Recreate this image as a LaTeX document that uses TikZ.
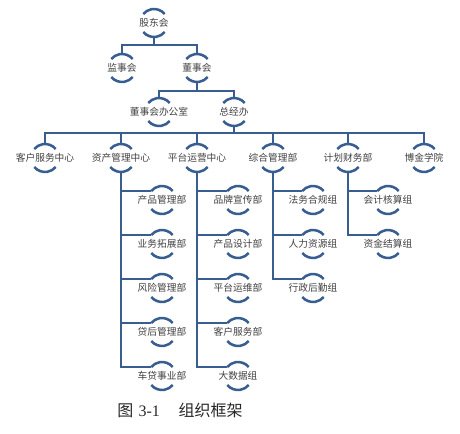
\documentclass[tikz,border=0pt]{standalone}
\usepackage{fontspec}
\setmainfont{Liberation Serif}
\newfontfamily\cjk{Noto Sans CJK SC}
\usetikzlibrary{calc}
\definecolor{orgblue}{RGB}{55,93,145}
\definecolor{txtgray}{RGB}{64,64,64}
\newcommand\orgarcs[1]{%
  \draw[arcline] (#1.40) arc[start angle=40,end angle=140,radius=10.5pt];
  \draw[arcline] (#1.220) arc[start angle=220,end angle=320,radius=10.5pt];}
\begin{document}
\begin{tikzpicture}[x=0.75pt,y=0.75pt,
  txt/.style={font=\cjk\fontsize{7.3}{8}\selectfont, text=txtgray, inner sep=0pt},
  unit/.style={circle, minimum size=21pt, inner sep=0pt, outer sep=0pt, draw=none, label={[txt]center:#1}},
  arcline/.style={draw=orgblue, line width=1.9pt},
  conn/.style={draw=orgblue, line width=1.9pt}]
\useasboundingbox (0,0) rectangle (460,-434);
% level 0-2
\node[unit=股东会] (gd) at (154,-23) {};
\node[unit=监事会] (js) at (122,-68) {};
\node[unit=董事会] (ds) at (197,-68) {};
\node[unit=董事会办公室] (dsb) at (159,-112) {};
\node[unit=总经办] (zj) at (234,-112) {};
% level 3
\node[unit=客户服务中心] (kf) at (45,-158) {};
\node[unit=资产管理中心] (zc) at (121,-158) {};
\node[unit=平台运营中心] (pt) at (197,-158) {};
\node[unit=综合管理部] (zh) at (273,-158) {};
\node[unit=计划财务部] (jh) at (348,-158) {};
\node[unit=博金学院] (bj) at (424,-158) {};
% level 4
\node[unit=产品管理部] (cp) at (162,-200) {};
\node[unit=业务拓展部] (yw) at (162,-244) {};
\node[unit=风险管理部] (fx) at (162,-288) {};
\node[unit=贷后管理部] (dh) at (162,-332) {};
\node[unit=车贷事业部] (cd) at (162,-376) {};
\node[unit=品牌宣传部] (pp) at (238,-200) {};
\node[unit=产品设计部] (cs) at (238,-244) {};
\node[unit=平台运维部] (yy) at (238,-288) {};
\node[unit=客户服务部] (kh) at (238,-332) {};
\node[unit=大数据组] (dsj) at (238,-376) {};
\node[unit=法务合规组] (fw) at (313,-200) {};
\node[unit=人力资源组] (rl) at (313,-244) {};
\node[unit=行政后勤组] (xz) at (313,-288) {};
\node[unit=会计核算组] (kj) at (388,-200) {};
\node[unit=资金结算组] (zjs) at (388,-244) {};
% arcs
\foreach \n in {gd,js,ds,dsb,zj,kf,zc,pt,zh,jh,bj,cp,yw,fx,dh,cd,pp,cs,yy,kh,dsj,fw,rl,xz,kj,zjs}{\orgarcs{\n}}
% buses
\coordinate (bus0) at (0,-45);
\coordinate (bus1) at (0,-91);
\coordinate (bus2) at (0,-133);
\draw[conn] (gd.south) -- (gd.south |- bus0) -| (js.north);
\draw[conn] (gd.south |- bus0) -| (ds.north);
\draw[conn] (ds.south) -- (ds.south |- bus1) -| (dsb.north);
\draw[conn] (ds.south |- bus1) -| (zj.north);
\draw[conn] (zj.south) -- (zj.south |- bus2);
\foreach \n in {kf,zc,pt,zh,jh,bj}{\draw[conn] (zj.south |- bus2) -| (\n.north);}
\foreach \n in {cp,yw,fx,dh,cd}{\draw[conn] (zc.south) |- (\n.140);}
\foreach \n in {pp,cs,yy,kh,dsj}{\draw[conn] (pt.south) |- (\n.140);}
\foreach \n in {fw,rl,xz}{\draw[conn] (zh.south) |- (\n.140);}
\foreach \n in {kj,zjs}{\draw[conn] (jh.south) |- (\n.140);}
% caption
\node[anchor=west, inner sep=0pt, text=black!85, font=\fontsize{12}{14}\selectfont] (cap) at (117,-410)
  {{\cjk 图}\hspace{4pt}3-1\hspace{14pt}{\cjk 组织框架}};
\end{tikzpicture}
\end{document}
